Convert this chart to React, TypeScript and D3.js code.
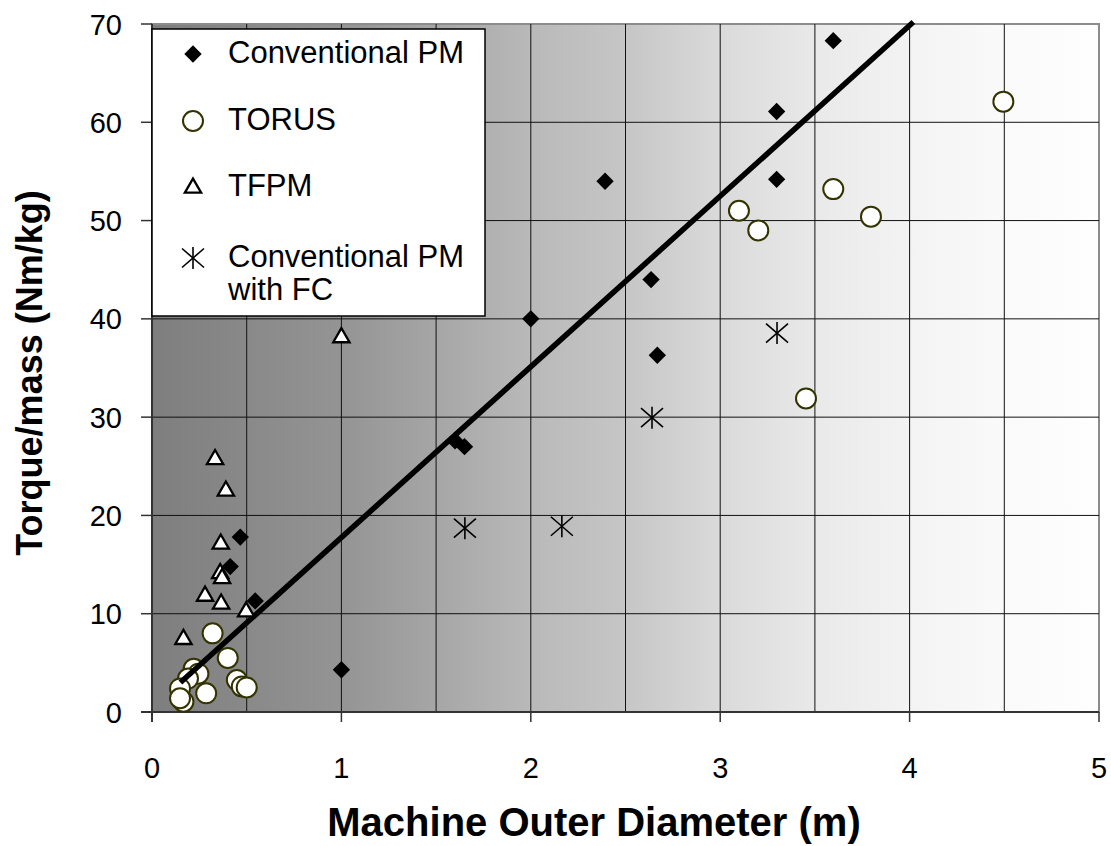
import React from "react";
import * as d3 from "d3";

// ---- Data ----
const convPmX = [1.0, 0.466, 0.413, 0.545, 1.6, 1.65, 2.0, 2.392, 2.635, 2.668, 3.298, 3.298, 3.597];
const convPmY = [4.3, 17.8, 14.8, 11.3, 27.6, 27.0, 40.0, 54.0, 44.0, 36.3, 61.1, 54.2, 68.3];

const torusX = [4.495, 3.597, 3.099, 3.201, 3.796, 3.453, 0.32, 0.4, 0.22, 0.245, 0.19, 0.148, 0.286, 0.166, 0.148, 0.448, 0.474, 0.5];
const torusY = [62.1, 53.2, 51.0, 49.0, 50.4, 31.9, 8.0, 5.5, 4.4, 3.9, 3.4, 2.4, 1.9, 1.05, 1.4, 3.25, 2.6, 2.5];

const tfpmX = [1.0, 0.333, 0.39, 0.363, 0.36, 0.37, 0.28, 0.365, 0.497, 0.166];
const tfpmY = [38.2, 25.8, 22.6, 17.2, 14.2, 13.7, 11.9, 11.1, 10.3, 7.5];

const fcX = [1.652, 2.164, 2.64, 3.3];
const fcY = [18.7, 18.9, 29.95, 38.55];

const trendX = [0.15, 4.02];
const trendY = [3.0, 70.2];

const xTicks = [0, 1, 2, 3, 4, 5];
const yTicks = [0, 10, 20, 30, 40, 50, 60, 70];
const xGrid = [0.5, 1, 1.5, 2, 2.5, 3, 3.5, 4, 4.5];
const yGrid = [10, 20, 30, 40, 50, 60];

const legendLabels = ["Conventional PM", "TORUS", "TFPM", "Conventional PM", "with FC"];

const W = 1111;
const H = 846;
const left = 152;
const right = 1099;
const top = 24;
const bottom = 712;
const FONT = "'Liberation Sans', Arial, sans-serif";

const x = d3.scaleLinear().domain([0, 5]).range([left, right]);
const y = d3.scaleLinear().domain([0, 70]).range([bottom, top]);

const diamondPath = d3.symbol().type(d3.symbolSquare).size(150)()!;
const trianglePath = d3.symbol().type(d3.symbolTriangle).size(115)()!;

const gradStops: [number, string][] = [
  [0, "#7e7e7e"],
  [0.2, "#949494"],
  [0.3, "#a6a6a6"],
  [0.4, "#b9b9b9"],
  [0.5, "#c6c6c6"],
  [0.6, "#dadada"],
  [0.7, "#e9e9e9"],
  [0.8, "#f3f3f3"],
  [0.9, "#fafafa"],
  [1, "#fefefe"],
];

function Diamond({ cx, cy }: { cx: number; cy: number }) {
  return <path d={diamondPath} transform={`translate(${cx},${cy}) rotate(45)`} fill="#000" />;
}
function Circle({ cx, cy }: { cx: number; cy: number }) {
  return <circle cx={cx} cy={cy} r={10} fill="#fff" stroke="#333300" strokeWidth={2} />;
}
function Triangle({ cx, cy }: { cx: number; cy: number }) {
  return (
    <path d={trianglePath} transform={`translate(${cx},${cy + 1})`} fill="#fff" stroke="#000" strokeWidth={2.3} strokeLinejoin="miter" />
  );
}
function Star({ cx, cy }: { cx: number; cy: number }) {
  return (
    <g transform={`translate(${cx},${cy})`} stroke="#000" strokeWidth={1.6}>
      <line x1={0} y1={-11} x2={0} y2={11} />
      <line x1={-11} y1={-9.5} x2={11} y2={9.5} />
      <line x1={-11} y1={9.5} x2={11} y2={-9.5} />
    </g>
  );
}

export default function App() {
  const line = d3
    .line<number>()
    .x((_, i) => x(trendX[i]))
    .y((d) => y(d));

  const lx = 193;
  return (
    <svg
      width={W}
      height={H}
      style={{ position: "absolute", left: 0, top: 0, background: "#fff" }}
      fontFamily={FONT}
    >
      <defs>
        <linearGradient id="bg" x1="0" x2="1" y1="0" y2="0">
          {gradStops.map(([o, c]) => (
            <stop key={o} offset={o} stopColor={c} />
          ))}
        </linearGradient>
      </defs>
      <rect x={left} y={top} width={right - left} height={bottom - top} fill="url(#bg)" stroke="#8c8c8c" strokeWidth={2} />

      {xGrid.map((v) => (
        <line key={"xg" + v} x1={x(v)} x2={x(v)} y1={top} y2={bottom} stroke="#111" strokeWidth={1} />
      ))}
      {yGrid.map((v) => (
        <line key={"yg" + v} x1={left} x2={right} y1={y(v)} y2={y(v)} stroke="#111" strokeWidth={1} />
      ))}

      {/* axes */}
      <line x1={left} x2={left} y1={top} y2={bottom + 10} stroke="#333" strokeWidth={2} />
      <line x1={left - 11} x2={right} y1={bottom} y2={bottom} stroke="#333" strokeWidth={2} />
      {yTicks.map((v) => (
        <g key={"yt" + v}>
          <line x1={left - 11} x2={left} y1={y(v)} y2={y(v)} stroke="#333" strokeWidth={1.5} />
          <text x={122} y={y(v) + 10.5} textAnchor="end" fontSize={29} fill="#000">
            {v}
          </text>
        </g>
      ))}
      {xTicks.map((v) => (
        <g key={"xt" + v}>
          <line x1={x(v)} x2={x(v)} y1={bottom} y2={bottom + 10} stroke="#333" strokeWidth={1.5} />
          <text x={x(v)} y={778} textAnchor="middle" fontSize={29} fill="#000">
            {v}
          </text>
        </g>
      ))}

      {/* series */}
      {torusX.map((v, i) => (
        <Circle key={"c" + i} cx={x(v)} cy={y(torusY[i])} />
      ))}
      <path d={line(trendY)!} fill="none" stroke="#000" strokeWidth={5.5} />
      {tfpmX.map((v, i) => (
        <Triangle key={"t" + i} cx={x(v)} cy={y(tfpmY[i])} />
      ))}
      {convPmX.map((v, i) => (
        <Diamond key={"d" + i} cx={x(v)} cy={y(convPmY[i])} />
      ))}
      {fcX.map((v, i) => (
        <Star key={"s" + i} cx={x(v)} cy={y(fcY[i])} />
      ))}

      {/* legend */}
      <rect x={152} y={29} width={333} height={287} fill="#fff" stroke="#000" strokeWidth={1.5} />
      <Diamond cx={lx} cy={54} />
      <text x={228} y={63} fontSize={31}>{legendLabels[0]}</text>
      <Circle cx={lx} cy={121} />
      <text x={228} y={130} fontSize={31}>{legendLabels[1]}</text>
      <Triangle cx={lx} cy={187} />
      <text x={228} y={196} fontSize={31}>{legendLabels[2]}</text>
      <Star cx={lx} cy={258} />
      <text x={228} y={267} fontSize={31}>{legendLabels[3]}</text>
      <text x={228} y={300} fontSize={31}>{legendLabels[4]}</text>

      {/* axis titles */}
      <text x={594} y={836} textAnchor="middle" fontSize={40} fontWeight="bold">
        Machine Outer Diameter (m)
      </text>
      <text transform="translate(42,373) rotate(-90)" textAnchor="middle" fontSize={36} fontWeight="bold">
        Torque/mass (Nm/kg)
      </text>
    </svg>
  );
}
